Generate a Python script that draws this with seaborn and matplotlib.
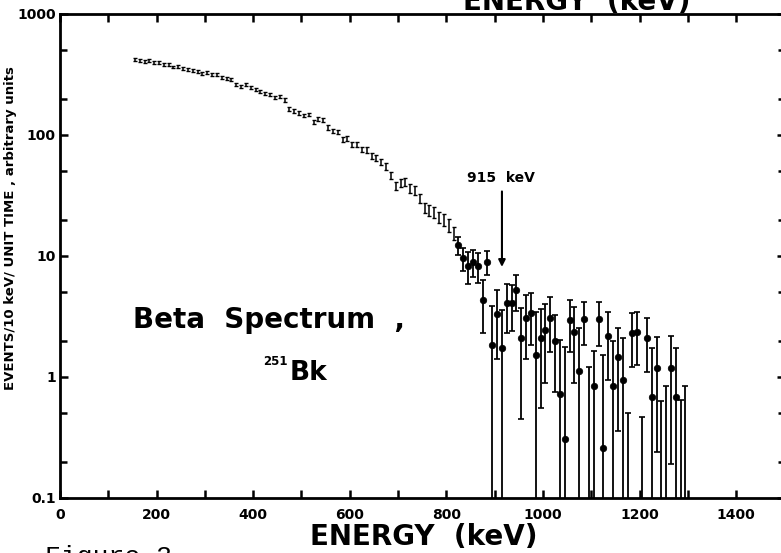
import matplotlib
matplotlib.use('Agg')
import matplotlib.pyplot as plt
from matplotlib.ticker import LogLocator, FixedLocator, NullFormatter
import numpy as np
import pandas as pd
import seaborn as sns

# Low energy part of the spectrum (small error bars, no dots), 10 keV bins
low_energy = [155, 165, 175, 185, 195, 205, 215, 225, 235, 245, 255, 265, 275, 285, 295,
              305, 315, 325, 335, 345, 355, 365, 375, 385, 395, 405, 415, 425, 435, 445,
              455, 465, 475, 485, 495, 505, 515, 525, 535, 545, 555, 565, 575, 585, 595,
              605, 615, 625, 635, 645, 655, 665, 675, 685, 695, 705, 715, 725, 735, 745,
              755, 765, 775, 785, 795, 805, 815]
low_counts = [420, 412, 405, 410, 395, 398, 382, 385, 365, 370, 355, 348, 340, 335, 325,
              330, 315, 318, 300, 295, 288, 262, 252, 260, 245, 238, 230, 222, 218, 205,
              208, 195, 165, 158, 152, 145, 148, 128, 135, 132, 116, 108, 106, 92, 94,
              84, 83, 76, 75, 67, 65, 60, 55, 46, 38, 40, 41, 36, 35, 30,
              25, 24, 23, 21, 20, 18, 15.5]
low_err = [12, 12, 12, 12, 11, 11, 11, 11, 10, 10, 10, 10, 10, 9, 9,
           9, 9, 9, 8, 8, 8, 7, 7, 7, 7, 7, 6, 6, 6, 6,
           6, 6, 6, 6, 5, 5, 5, 5, 5, 5, 5, 4.5, 4.5, 4, 4,
           4, 4, 4, 4, 3.5, 3.5, 3.5, 3.5, 3, 3, 3, 3, 3, 2.8, 2.6,
           2.5, 2.5, 2.4, 2.3, 2.2, 2.2, 2.0]

# High energy part: points drawn as dots with large error bars
dot_energy = [825, 835, 845, 855, 865, 875, 885, 895, 905, 915, 925, 935, 945,
              955, 965, 975, 985, 995, 1005, 1015, 1025, 1035, 1045, 1055, 1065,
              1075, 1085, 1105, 1115, 1125, 1135, 1145, 1155, 1165, 1185, 1195,
              1215, 1225, 1235, 1265, 1275]
dot_counts = [12.3, 9.6, 8.3, 8.9, 8.3, 4.3, 8.9, 1.84, 3.3, 1.74, 4.1, 4.1, 5.2,
              2.1, 3.1, 3.4, 1.52, 2.1, 2.45, 3.1, 2.0, 0.73, 0.31, 2.95, 2.35,
              1.12, 3.0, 0.85, 3.0, 0.26, 2.2, 0.84, 1.46, 0.94, 2.3, 2.35,
              2.1, 0.68, 1.19, 1.19, 0.68]
dot_err = [2.1, 2.1, 2.4, 2.2, 2.3, 2.0, 2.0, 2.0, 1.9, 1.85, 1.8, 1.7, 1.7,
           1.65, 1.7, 1.55, 1.9, 1.55, 1.55, 1.5, 1.25, 1.3, 1.45, 1.35, 1.45,
           1.4, 1.15, 0.8, 1.2, 1.25, 1.25, 1.15, 1.1, 1.15, 1.1, 1.1,
           1.0, 1.07, 0.95, 1.0, 1.07]

# Bins with no visible point, only the upper end of the error bar
bar_energy = [1095, 1175, 1205, 1245, 1255, 1285, 1295]
bar_top = [1.2, 0.5, 0.47, 0.63, 0.85, 0.64, 0.85]

xtick_vals = [0, 200, 400, 600, 800, 1000, 1200, 1400]
ytick_vals = [0.1, 1, 10, 100, 1000]
ytick_labels = ['0.1', '1', '10', '100', '1000']

peak_energy = 915

sns.set_style("ticks")
plt.rcParams['font.family'] = ['DejaVu Sans']
plt.rcParams['text.color'] = 'black'
plt.rcParams['axes.labelcolor'] = 'black'
plt.rcParams['axes.edgecolor'] = 'black'

fig = plt.figure(figsize=(7.81, 5.53), dpi=100)
ax = fig.add_axes([0.0768, 0.0995, 0.9277, 0.8752])
ax.set_yscale('log')
ax.set_xlim(0, 1500)
ax.set_ylim(0.1, 1000)

floor = 0.05  # below the axis, so bars run off the bottom

low = pd.DataFrame({'energy': low_energy, 'counts': low_counts, 'err': low_err})
ax.errorbar(low['energy'], low['counts'], yerr=low['err'], fmt='none',
            ecolor='black', elinewidth=1.1, capsize=1.6, capthick=1.0)

dots = pd.DataFrame({'energy': dot_energy, 'counts': dot_counts, 'err': dot_err})
lower = np.minimum(dots['err'], dots['counts'] - floor)
ax.errorbar(dots['energy'], dots['counts'], yerr=[lower, dots['err']], fmt='none',
            ecolor='black', elinewidth=1.3, capsize=2.5, capthick=1.2)
sns.scatterplot(data=dots, x='energy', y='counts', color='black', s=22,
                edgecolor='black', linewidth=0.5, ax=ax, zorder=3, legend=False)

bars = pd.DataFrame({'energy': bar_energy, 'top': bar_top})
ax.errorbar(bars['energy'], bars['top'], yerr=[bars['top'] - floor, np.zeros(len(bars))],
            fmt='none', ecolor='black', elinewidth=1.3, capsize=2.5, capthick=1.2)

# axes styling
for s in ax.spines.values():
    s.set_linewidth(2.0)
    s.set_visible(True)
ax.set_xticks(xtick_vals)
ax.set_xticklabels([str(v) for v in xtick_vals])
ax.xaxis.set_minor_locator(FixedLocator([100, 300, 500, 700, 900, 1100, 1300]))
ax.set_yticks(ytick_vals)
ax.set_yticklabels(ytick_labels)
ax.yaxis.set_minor_locator(LogLocator(base=10, subs=(2, 5)))
ax.yaxis.set_minor_formatter(NullFormatter())
ax.tick_params(which='both', direction='in', top=True, right=True, width=1.8,
               labelsize=10, colors='black')
ax.tick_params(which='major', length=6)
ax.tick_params(axis='x', which='minor', length=6)
ax.tick_params(axis='y', which='minor', length=5)
ax.tick_params(axis='x', pad=7)
ax.tick_params(axis='y', pad=3)
for lab in ax.get_xticklabels() + ax.get_yticklabels():
    lab.set_fontweight('bold')

ax.set_xlabel('ENERGY  (keV)', fontsize=20, fontweight='bold')
ax.xaxis.label.set_va('baseline')
ax.xaxis.set_label_coords(0.502, -0.097)
ax.set_ylabel('EVENTS/10 keV/ UNIT TIME , arbitrary units', fontsize=9.5,
              fontweight='bold')
ax.yaxis.label.set_va('center')
ax.yaxis.set_label_coords(-0.068, 0.558)

# annotations
ax.text(151, 2.54, 'Beta  Spectrum  ,', fontsize=20, fontweight='bold',
        ha='left', va='baseline')
ax.text(476, 0.944, 'Bk', fontsize=19, fontweight='bold', ha='left', va='baseline')
ax.text(420, 1.256, '251', fontsize=8.5, fontweight='bold', ha='left', va='baseline')
ax.text(843, 40.9, '915  keV', fontsize=10, fontweight='bold', ha='left', va='baseline')
ax.annotate('', xy=(peak_energy, 7.7), xytext=(peak_energy, 36),
            arrowprops=dict(arrowstyle='-|>', lw=1.5, color='black', mutation_scale=10))

# scanned page fragments around the plot
fig.text(577 / 781, 1 - 10 / 553, 'ENERGY  (keV)', fontsize=20, fontweight='bold',
         ha='center', va='baseline')
fig.text(45 / 781, 8 / 553, 'Figure 3', fontsize=19, family='Liberation Mono',
         ha='left', va='top')

fig.savefig('out.png', dpi=100)
